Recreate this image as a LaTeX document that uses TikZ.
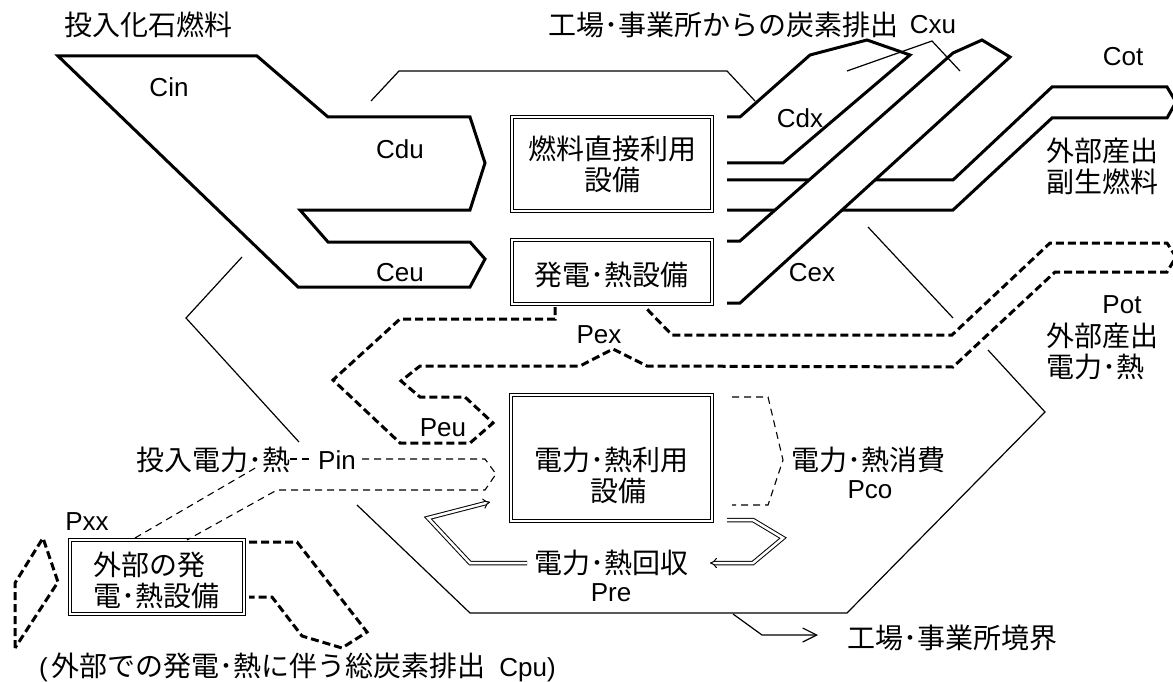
\documentclass[tikz,border=0pt]{standalone}
\usepackage{fontspec}
\setmainfont{Liberation Sans}
\newfontfamily\cjk{Noto Sans CJK JP}
\usetikzlibrary{arrows.meta}
\begin{document}
\begin{tikzpicture}[x=1pt,y=-1pt,
  strip/.style={line width=3pt, line join=miter},
  bline/.style={line width=1.2pt},
  bigdash/.style={line width=3pt, dash pattern=on 8pt off 4pt},
  smalldash/.style={line width=1.1pt, dash pattern=on 7pt off 5pt},
  jp/.style={font=\cjk\fontsize{28}{31}\selectfont, inner sep=0pt},
  lt/.style={font=\fontsize{26}{31}\selectfont, inner sep=0pt},
  dbox/.style={draw, double, line width=1.2pt, double distance=2.5pt, inner sep=0pt},
  dbl/.style={double, line width=1pt, double distance=2.5pt},
]
\useasboundingbox (0,0) rectangle (1173,682);

% factory boundary
\draw[bline] (371,101)--(399,71)--(727,71)--(755,101);
\draw[bline] (868,227)--(953,318);
\draw[bline] (988,350)--(1045,412)--(847,613)--(470,613)--(357,505);
\draw[bline] (299,442)--(186,318)--(242,257);
\draw[bline, -{Straight Barb[length=14pt,width=14pt]}] (733,614)--(762,635)--(818,635);

% fuel input strip
\draw[strip, fill=white] (58,56)--(257,56)--(328,117)--(470,117)--(485,163)--(470,210)--(300,210)--(328,242)--(470,242)--(485,259)--(470,287)--(298,287)--cycle;

% right carbon strips
\draw[strip, fill=white] (727,117)--(740,117)--(810,55)--(867,40)--(910,55)--(783,163)--(727,163);
\draw[strip, fill=white] (727,180)--(953,180)--(1052,87)--(1167,87)--(1176,102)--(1167,118)--(1052,118)--(953,210)--(727,210);
\draw[strip, fill=white] (727,241)--(740,241)--(953,53)--(982,40)--(1010,57)--(740,303)--(727,303);

% boxes
\node[dbox, minimum width=200pt, minimum height=94pt] (fuelbox) at (612,164) {};
\node[jp, align=center] (fueltxt) at (612,164) {燃料直接利用\\設備};
\node[dbox, minimum width=200pt, minimum height=64pt] (genbox) at (612,272) {};
\node[jp] (gentxt) at (611,275) {発電･熱設備};
\node[dbox, minimum width=201pt, minimum height=126pt] (usebox) at (611.5,458) {};
\node[jp, align=center] (usetxt) at (611,475) {電力･熱利用\\\hspace*{14pt}設備};
\node[dbox, minimum width=174pt, minimum height=74pt] (extbox) at (157,577) {};
\node[jp, align=left, anchor=west] (exttxt) at (93,580) {外部の発\\電･熱設備};

% power flows (thick dashed)
\draw[bigdash] (555,307)--(555,319)--(400,319)--(333,380)--(400,443)--(470,443)--(493,423)--(465,397)--(420,397)--(401,381)--(420,366)--(580,366)--(613,349)--(647,366)--(953,367)--(1055,272)--(1167,272)--(1176,257)--(1167,243)--(1050,243)--(952,335)--(672,335)--(645,307);
\draw[bigdash] (249,542)--(297,542)--(367,632)--(342,648)--(302,636)--(272,597)--(249,597);
\draw[bigdash] (15,648)--(15,583)--(43,538)--(58,582)--cycle;

% thin dashed flows
\draw[smalldash] (135,538)--(257,467);
\draw[smalldash] (290,459)--(312,459);
\draw[smalldash] (362,459)--(485,459)--(496,474)--(485,490)--(277,490)--(187,540);
\draw[smalldash] (732,397)--(768,397)--(783,460)--(768,505)--(732,505);

% recovery arrows
\draw[dbl, -Implies] (527,563)--(470,563)--(428,518)--(490,502);
\draw[dbl, -Implies] (727,520)--(753,520)--(783,538)--(753,563)--(710,563);

% labels
\node[jp, anchor=west] (fossil) at (64,25) {投入化石燃料};
\node[lt] (cin) at (169,87) {Cin};
\node[lt] (cdu) at (400,149) {Cdu};
\node[lt] (ceu) at (400,273) {Ceu};
\node[jp, anchor=west] (emit) at (548,25) {工場･事業所からの炭素排出};
\node[lt] (cxu) at (933,25) {Cxu};
\coordinate (cxulead) at (932,41);
\draw[bline] (847,71)--(cxulead)--(960,71);
\node[lt] (cdx) at (800,118) {Cdx};
\node[lt] (cot) at (1123,57) {Cot};
\node[jp, anchor=west, align=left] (byprod) at (1046,166) {外部産出\\副生燃料};
\node[lt] (cex) at (812,273) {Cex};
\node[lt] (pot) at (1122,305) {Pot};
\node[jp, anchor=west, align=left] (extpow) at (1046,351) {外部産出\\電力･熱};
\node[lt] (pex) at (599,335) {Pex};
\node[lt] (peu) at (443,428) {Peu};
\node[jp, anchor=west] (inpow) at (136,460) {投入電力･熱};
\node[lt] (pin) at (337,460) {Pin};
\node[jp, anchor=west] (cons) at (791,460) {電力･熱消費};
\node[lt] (pco) at (870,490) {Pco};
\node[jp] (recov) at (611,563) {電力･熱回収};
\node[lt] (pre) at (611,593) {Pre};
\node[lt] (pxx) at (87,522) {Pxx};
\node[jp, anchor=west] (bound) at (847,638) {工場･事業所境界};
\node[lt, anchor=west] (cpu) at (39,667) {(\kern3.5pt{\cjk\fontsize{28}{31}\selectfont 外部での発電･熱に伴う総炭素排出}\kern14pt Cpu)};
\end{tikzpicture}
\end{document}
